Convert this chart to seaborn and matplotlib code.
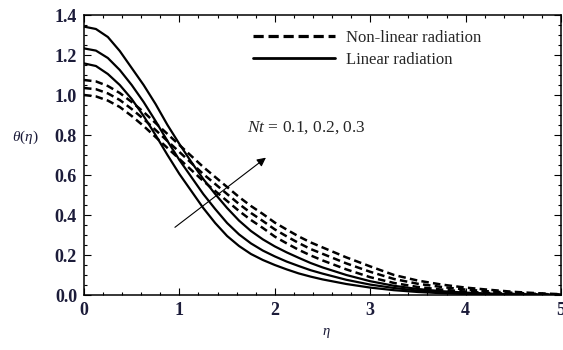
import numpy as np
import pandas as pd
import matplotlib
matplotlib.use("Agg")
import matplotlib.pyplot as plt
import seaborn as sns
from matplotlib.lines import Line2D
from matplotlib.ticker import MultipleLocator

# ---- data ----
eta = [0, 0.125, 0.25, 0.375, 0.5, 0.625, 0.75, 0.875, 1.0, 1.125, 1.25, 1.375, 1.5,
       1.625, 1.75, 1.875, 2.0, 2.125, 2.25, 2.375, 2.5, 2.75, 3.0, 3.25, 3.5, 3.75,
       4.0, 4.25, 4.5, 4.75, 5.0]

# Non-linear radiation (dashed), Nt = 0.1, 0.2, 0.3
nonlin_nt1 = [1.000, 0.993, 0.972, 0.940, 0.895, 0.845, 0.790, 0.735, 0.680, 0.625, 0.570,
              0.520, 0.470, 0.420, 0.375, 0.335, 0.292, 0.258, 0.226, 0.198, 0.173, 0.128,
              0.089, 0.060, 0.040, 0.027, 0.017, 0.010, 0.006, 0.003, 0.001]
nonlin_nt2 = [1.035, 1.029, 1.008, 0.975, 0.930, 0.880, 0.825, 0.770, 0.715, 0.660, 0.605,
              0.555, 0.505, 0.455, 0.410, 0.370, 0.328, 0.293, 0.260, 0.230, 0.206, 0.158,
              0.116, 0.080, 0.056, 0.040, 0.027, 0.018, 0.011, 0.006, 0.002]
nonlin_nt3 = [1.075, 1.068, 1.045, 1.010, 0.965, 0.915, 0.860, 0.805, 0.750, 0.695, 0.640,
              0.590, 0.540, 0.490, 0.445, 0.405, 0.362, 0.327, 0.293, 0.263, 0.238, 0.188,
              0.143, 0.100, 0.072, 0.052, 0.037, 0.026, 0.016, 0.009, 0.004]

# Linear radiation (solid), Nt = 0.1, 0.2, 0.3
lin_nt1 = [1.158, 1.145, 1.105, 1.050, 0.980, 0.895, 0.800, 0.700, 0.605, 0.520, 0.435,
           0.360, 0.295, 0.245, 0.205, 0.175, 0.150, 0.128, 0.108, 0.092, 0.078, 0.055,
           0.037, 0.024, 0.015, 0.009, 0.005, 0.003, 0.002, 0.001, 0.000]
lin_nt2 = [1.233, 1.222, 1.185, 1.125, 1.050, 0.965, 0.870, 0.770, 0.675, 0.590, 0.505,
           0.430, 0.360, 0.303, 0.258, 0.222, 0.193, 0.167, 0.145, 0.124, 0.107, 0.076,
           0.052, 0.035, 0.022, 0.014, 0.008, 0.005, 0.003, 0.001, 0.000]
lin_nt3 = [1.342, 1.330, 1.290, 1.220, 1.135, 1.050, 0.955, 0.850, 0.755, 0.665, 0.580,
           0.505, 0.435, 0.372, 0.320, 0.278, 0.243, 0.213, 0.186, 0.160, 0.138, 0.100,
           0.069, 0.046, 0.030, 0.019, 0.012, 0.007, 0.004, 0.002, 0.001]

x_ticks = [0, 1, 2, 3, 4, 5]
y_ticks = [0.0, 0.2, 0.4, 0.6, 0.8, 1.0, 1.2, 1.4]
legend_labels = ["Non-linear radiation", "Linear radiation"]
nt_label = r"$\mathit{Nt}$ = 0.1, 0.2, 0.3"

# ---- style ----
sns.set_style("white")
plt.rcParams["font.family"] = ["Liberation Serif", "DejaVu Serif"]
plt.rcParams["mathtext.fontset"] = "custom"
plt.rcParams["mathtext.rm"] = "Liberation Serif"
plt.rcParams["mathtext.it"] = "Liberation Serif:italic"

W, H = 563, 350
fig = plt.figure(figsize=(W / 100, H / 100), dpi=100)
ax = fig.add_axes([84 / W, 1 - 295 / H, (561 - 84) / W, (295 - 15) / H])

dash_pat = (0, (3.0, 1.7))
for ys in (nonlin_nt1, nonlin_nt2, nonlin_nt3):
    sns.lineplot(x=eta, y=ys, ax=ax, color="black", lw=1.8, linestyle=dash_pat)
for ys in (lin_nt1, lin_nt2, lin_nt3):
    sns.lineplot(x=eta, y=ys, ax=ax, color="black", lw=1.6)

ax.set_xlim(0, 5)
ax.set_ylim(0, 1.4)
ax.set_xticks(x_ticks)
ax.set_yticks(y_ticks)
ax.set_xticklabels([str(t) for t in x_ticks])
ax.set_yticklabels([f"{t:.1f}" for t in y_ticks])
ax.xaxis.set_minor_locator(MultipleLocator(0.2))
ax.yaxis.set_minor_locator(MultipleLocator(0.05))
ax.tick_params(which="both", direction="in", top=True, right=True, bottom=True, left=True,
               color="black", width=0.8)
ax.tick_params(which="major", length=5, labelsize=13, pad=5, labelcolor="#1c1c3a")
ax.tick_params(which="minor", length=2.5)
for lab in ax.get_xticklabels() + ax.get_yticklabels():
    lab.set_fontweight("bold")
for sp in ax.spines.values():
    sp.set_linewidth(1.1)
    sp.set_color("black")
ax.set_xlabel("")
ax.set_ylabel("")

# axis labels (Mathematica style, small italic)
fig.text(25 / W, 1 - 137 / H, r"$\theta(\eta)$", fontsize=11, ha="center", va="center",
         color="#1c1c3a")
fig.text(326 / W, 1 - 333 / H, r"$\eta$", fontsize=10.5, ha="center", va="center",
         color="#1c1c3a")

# legend
handles = [Line2D([], [], color="black", lw=2.3, linestyle=(0, (3.2, 1.5))),
           Line2D([], [], color="black", lw=2.0)]
ax.legend(handles, legend_labels, loc="upper left", frameon=False,
          bbox_to_anchor=(253 / W, 1 - 30 / H), bbox_transform=fig.transFigure,
          fontsize=12, handlelength=4.9, handletextpad=0.7, borderpad=0,
          borderaxespad=0, labelspacing=0.33)

# annotation arrow and Nt label
ax.annotate("", xy=(1.93, 0.695), xytext=(0.93, 0.33),
            arrowprops=dict(arrowstyle="-|>", color="black", lw=0.8,
                            mutation_scale=13))
ax.text(1.71, 0.835, nt_label, fontsize=12.5, ha="left", va="center")

fig.savefig("out.png", dpi=100)
